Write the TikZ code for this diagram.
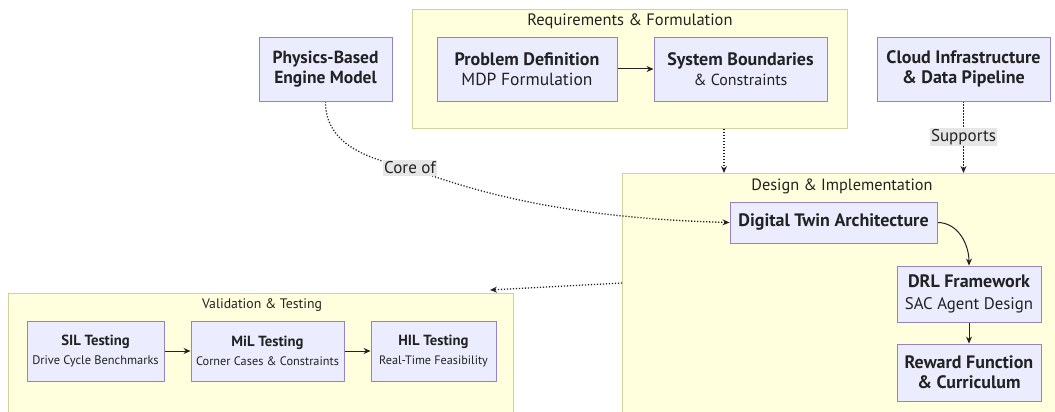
\documentclass[tikz,border=0pt]{standalone}
\usepackage{fontspec}
\setmainfont{PT Sans}
\usetikzlibrary{arrows.meta}
\pgfdeclarelayer{back}
\pgfdeclarelayer{edges}
\pgfsetlayers{back,edges,main}
\definecolor{nodefill}{HTML}{ECECFF}
\definecolor{nodeline}{HTML}{9383C9}
\definecolor{clfill}{HTML}{FFFFDE}
\definecolor{clline}{HTML}{D2D29A}
\definecolor{ink}{HTML}{222222}
\definecolor{lblbg}{HTML}{E6E6E6}
\tikzset{
  box/.style={draw=nodeline, fill=nodefill, line width=0.9pt, align=center,
    text=ink, inner sep=0pt, font=\fontsize{18}{20}\selectfont},
  smallbox/.style={box, font=\fontsize{14.7}{19.5}\selectfont},
  cluster/.style={draw=clline, fill=clfill, line width=0.9pt, anchor=north west,
    inner sep=0pt},
  cltitle/.style={text=ink, inner sep=1pt},
  lbl/.style={fill=lblbg, text=ink, font=\fontsize{17}{19}\selectfont, inner sep=1.5pt},
  arr/.style={draw=ink, line width=1pt, -{Stealth[length=7pt,width=6pt]}},
  dotarr/.style={draw=ink, line width=1.3pt, dash pattern=on 1.2pt off 1.8pt,
    -{Stealth[length=7pt,width=6pt]}},
}
\newcommand{\hd}[1]{{\bfseries #1}}
\newcommand{\sub}[2]{{\fontsize{#1}{#1}\selectfont #2}}
\begin{document}
\begin{tikzpicture}[x=1pt, y=-1pt]
  \useasboundingbox (0,0) rectangle (1055,412);

  % groups, clipped at the page edge
  \begin{pgfonlayer}{back}
    \fill[white] (0,0) rectangle (1055,412);
    \begin{scope}
      \clip (0,0) rectangle (1055,412);
      \node[cluster, minimum width=435pt, minimum height=119pt] (req) at (412,9) {};
      \node[cluster, minimum width=450pt, minimum height=260pt] (design) at (622,173) {};
      \node[cluster, minimum width=505pt, minimum height=140pt] (val) at (8,293) {};
    \end{scope}
  \end{pgfonlayer}
  \node[cltitle, font=\fontsize{16.5}{18}\selectfont] (reqt) at (630,21)
    {Requirements \& Formulation};
  \node[cltitle, font=\fontsize{16.3}{18}\selectfont] (designt) at (842,186)
    {Design \& Implementation};
  \node[cltitle, font=\fontsize{13.8}{16}\selectfont] (valt) at (262,305)
    {Validation \& Testing};

  % stand-alone nodes
  \node[box, minimum width=133pt, minimum height=64pt, font=\fontsize{17.5}{20}\selectfont]
    (phys) at (325.5,69) {\hd{Physics-Based}\\\hd{Engine Model}};
  \node[box, minimum width=173pt, minimum height=64pt] (cloud) at (963.5,69)
    {\hd{Cloud Infrastructure}\\\hd{\& Data Pipeline}};

  % requirements
  \node[box, minimum width=180pt, minimum height=64pt] (prob) at (527,69)
    {\hd{Problem Definition}\\\sub{17.5}{MDP Formulation}};
  \node[box, minimum width=173pt, minimum height=64pt] (sys) at (740.5,69)
    {\hd{System Boundaries}\\\sub{16}{\& Constraints}};

  % design
  \node[box, minimum width=207pt, minimum height=41pt] (twin) at (833.5,222.5)
    {\hd{Digital Twin Architecture}};
  \node[box, minimum width=144pt, minimum height=56pt, font=\fontsize{18}{22}\selectfont]
    (drl) at (969,294) {\hd{DRL Framework}\\\sub{16.8}{SAC Agent Design}};
  \node[box, minimum width=144pt, minimum height=57pt] (reward) at (969,372.5)
    {\hd{Reward Function}\\\hd{\& Curriculum}};

  % validation
  \node[smallbox, minimum width=137pt, minimum height=60pt] (sil) at (95.5,351)
    {\hd{SIL Testing}\\\sub{12.4}{Drive Cycle Benchmarks}};
  \node[smallbox, minimum width=153pt, minimum height=60pt] (mil) at (267.5,351)
    {\hd{MiL Testing}\\\sub{12.3}{Corner Cases \& Constraints}};
  \node[smallbox, minimum width=125pt, minimum height=60pt] (hil) at (433.5,351)
    {\hd{HIL Testing}\\\sub{12.2}{Real-Time Feasibility}};

  % edge labels and free ends
  \node[lbl] (coreof) at (410,168) {Core of};
  \coordinate (reqx) at (724,0);
  \coordinate (valin) at (490,290);
  \coordinate (dsgout) at (622,283);

  \begin{pgfonlayer}{edges}
    \draw[arr] (prob) -- (sys);
    \draw[dotarr] (req.south -| reqx) -- (design.north -| reqx);
    \draw[dotarr] (cloud.south) -- (cloud.south |- design.north)
      node[lbl, pos=0.5] (supports) {Supports};
    \draw[dotarr] (phys.south) .. controls (325,140) and (360,158) .. (coreof.center)
      .. controls (470,190) and (560,218) .. (twin.west);
    \draw[arr] (twin.east) to[out=0, in=90] (drl.north);
    \draw[arr] (drl) -- (reward);
    \draw[dotarr] (dsgout) -- (valin);
    \draw[arr] (sil) -- (mil);
    \draw[arr] (mil) -- (hil);
  \end{pgfonlayer}
\end{tikzpicture}
\end{document}
